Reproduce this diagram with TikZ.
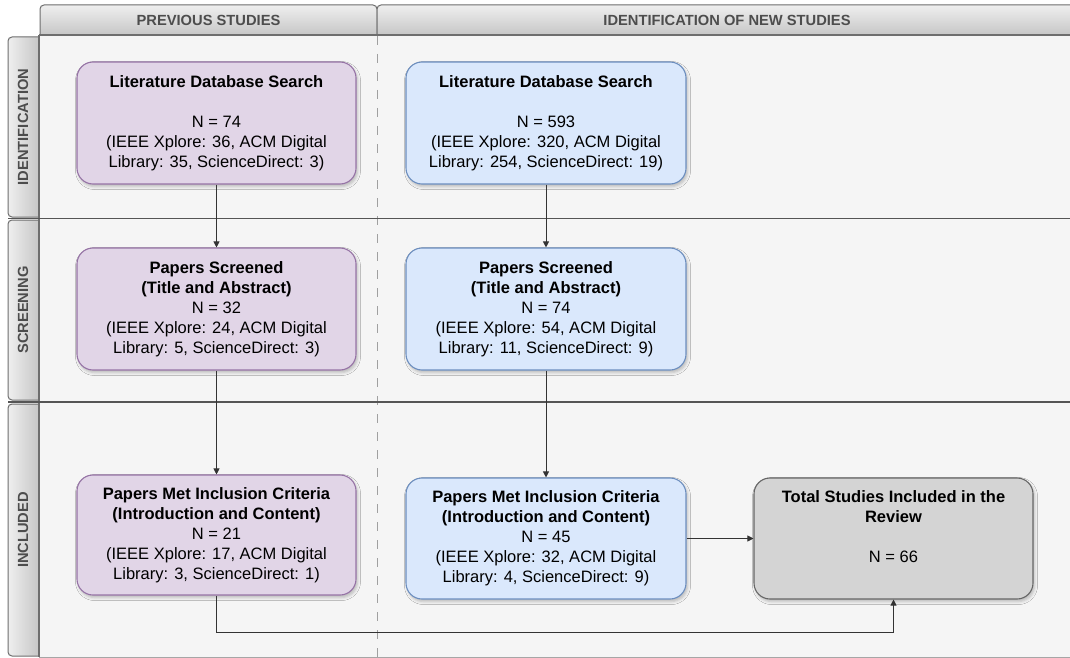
\documentclass[tikz,border=0pt]{standalone}
\usepackage{fontspec}
\setmainfont{Liberation Sans}
\usetikzlibrary{arrows.meta,shadows.blur}

\definecolor{panelbg}{HTML}{F5F5F5}
\definecolor{purfill}{HTML}{E1D5E7}
\definecolor{purline}{HTML}{9673A6}
\definecolor{bluefill}{HTML}{DAE8FC}
\definecolor{blueline}{HTML}{6C8EBF}
\definecolor{totfill}{HTML}{D4D4D4}
\definecolor{totline}{HTML}{666666}
\definecolor{hdrlight}{HTML}{EFEFEF}
\definecolor{hdrdark}{HTML}{BEBEBE}
\definecolor{hdrline}{HTML}{6E6E6E}
\definecolor{hdrtext}{HTML}{4D4D4D}
\definecolor{laneline}{HTML}{555555}
\definecolor{dashcol}{HTML}{A0A0A0}
\definecolor{flow}{HTML}{333333}

\tikzset{
  card/.style={rounded corners=16pt, line width=1.1pt, minimum width=279pt,
    minimum height=122pt, align=center, inner sep=0pt,
    font=\fontsize{16.5}{20}\selectfont,
    blur shadow={shadow xshift=1.5pt, shadow yshift=-2.5pt,
      shadow blur radius=3pt, shadow opacity=25}},
  prevcard/.style={card, fill=purfill, draw=purline},
  newcard/.style={card, fill=bluefill, draw=blueline},
  totcard/.style={card, fill=totfill, draw=totline},
  cardtext/.style={align=center, inner sep=0pt, font=\fontsize{16.5}{20}\selectfont},
  hdrlabel/.style={text=hdrtext, inner sep=0pt, font=\bfseries\fontsize{14.7}{16}\selectfont},
  flowarrow/.style={draw=flow, line width=1pt, -{Triangle[length=6pt,width=6pt]}},
}

\begin{document}
\begin{tikzpicture}[x=1pt, y=-1pt]
  \clip (0,0) rectangle (1070,658);
  \fill[white] (0,0) rectangle (1070,658);

  % column headers
  \shade[top color=hdrlight, bottom color=hdrdark, draw=hdrline, line width=1pt,
    rounded corners=4pt] (40,5) rectangle (377,41);
  \shade[top color=hdrlight, bottom color=hdrdark, draw=hdrline, line width=1pt,
    rounded corners=4pt] (377,5) rectangle (1090,41);

  % row headers
  \foreach \ya/\yb in {37/217, 220/400, 404/656} {
    \shade[left color=hdrlight, right color=hdrdark, draw=hdrline, line width=1pt,
      rounded corners=4pt] (8,\ya) rectangle (45,\yb);
  }

  % pool body
  \fill[panelbg] (39,35) rectangle (1090,657);
  \draw[hdrline, line width=1.2pt] (39,35) -- (1090,35);
  \draw[hdrline, line width=1.2pt] (39,35) -- (39,657);
  \draw[gray!70, line width=1pt] (39,657) -- (1090,657);

  % column divider and lane separators
  \draw[dashcol, line width=1pt, dash pattern=on 9pt off 9pt] (377,36) -- (377,657);
  \draw[laneline, line width=1.3pt] (8,218.5) -- (1090,218.5);
  \draw[laneline, line width=1.3pt] (8,402) -- (1090,402);

  % header labels
  \node[hdrlabel] (colprev) at (208.5,20) {PREVIOUS STUDIES};
  \node[hdrlabel] (colnew) at (727,20) {IDENTIFICATION OF NEW STUDIES};
  \node[hdrlabel, rotate=90] (rowid) at (23,127) {IDENTIFICATION};
  \node[hdrlabel, rotate=90] (rowscr) at (23,310) {SCREENING};
  \node[hdrlabel, rotate=90] (rowinc) at (23,530) {INCLUDED};

  % previous studies
  \node[prevcard] (p1) at (216.5,123) {\textbf{Literature Database Search}\\[20pt]
    N = 74\\(IEEE Xplore: 36, ACM Digital\\Library: 35, ScienceDirect: 3)};
  \node[prevcard] (p2) at (216.5,309) {\textbf{Papers Screened}\\\textbf{(Title and Abstract)}\\
    N = 32\\(IEEE Xplore: 24, ACM Digital\\Library: 5, ScienceDirect: 3)};
  \node[prevcard, minimum height=120pt] (p3) at (216.5,535) {\textbf{Papers Met Inclusion Criteria}\\
    \textbf{(Introduction and Content)}\\N = 21\\(IEEE Xplore: 17, ACM Digital\\Library: 3, ScienceDirect: 1)};

  % new studies
  \node[newcard, minimum width=280pt] (b1) at (546,123) {\textbf{Literature Database Search}\\[20pt]
    N = 593\\(IEEE Xplore: 320, ACM Digital\\Library: 254, ScienceDirect: 19)};
  \node[newcard, minimum width=280pt] (b2) at (546,309) {\textbf{Papers Screened}\\\textbf{(Title and Abstract)}\\
    N = 74\\(IEEE Xplore: 54, ACM Digital\\Library: 11, ScienceDirect: 9)};
  \node[newcard, minimum width=280pt, minimum height=121pt] (b3) at (546,538.5) {\textbf{Papers Met Inclusion Criteria}\\
    \textbf{(Introduction and Content)}\\N = 45\\(IEEE Xplore: 32, ACM Digital\\Library: 4, ScienceDirect: 9)};

  % total
  \node[totcard, minimum height=121pt] (tot) at (893.5,538.5) {};
  \node[cardtext] (totlabel) at (893.5,527) {\textbf{Total Studies Included in the}\\
    \textbf{Review}\\[20pt]N = 66};

  % connectors
  \coordinate (turn) at (216.5,632);
  \draw[flowarrow] (p1) -- (p2);
  \draw[flowarrow] (p2) -- (p3);
  \draw[flowarrow] (b1) -- (b2);
  \draw[flowarrow] (b2) -- (b3);
  \draw[flowarrow] (b3) -- (tot);
  \draw[flowarrow] (p3.south) -- (turn) -| (tot.south);
\end{tikzpicture}
\end{document}
